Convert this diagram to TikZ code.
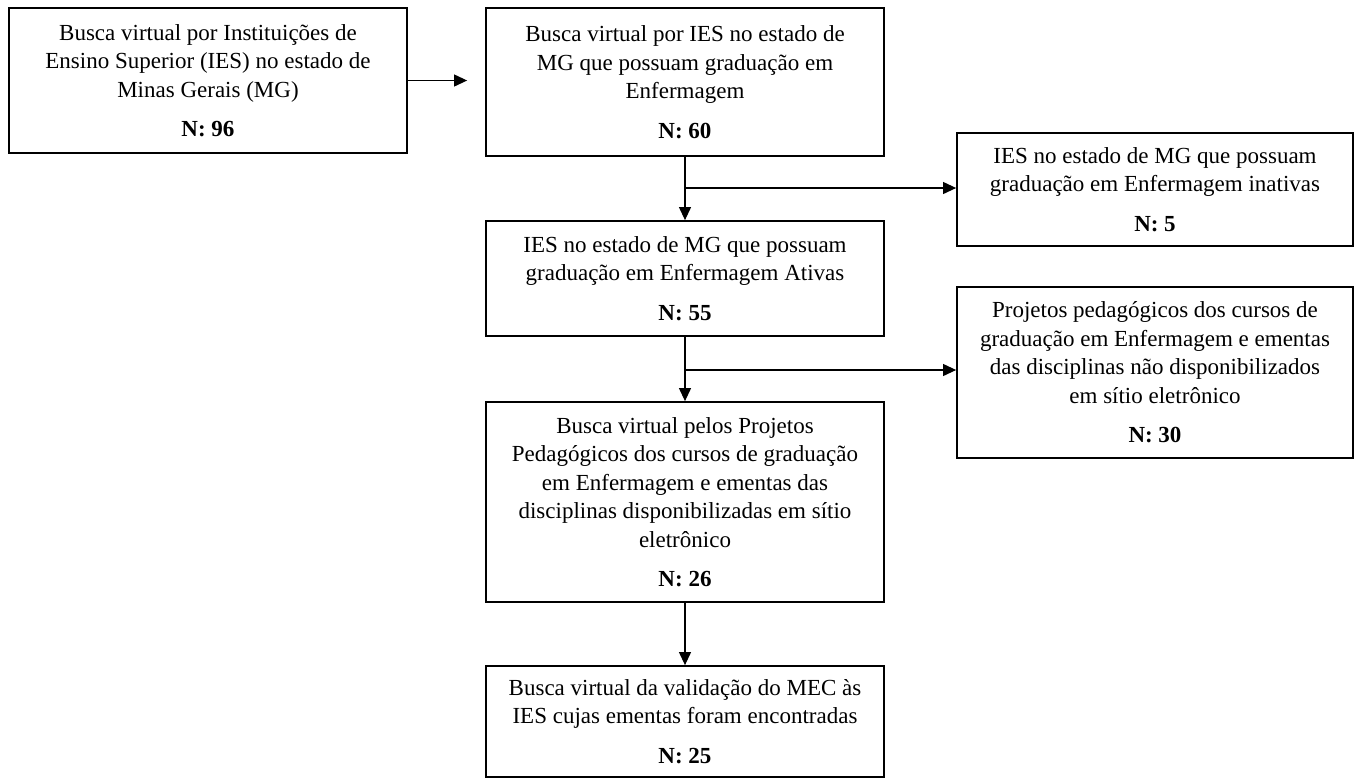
\documentclass[tikz,border=0pt]{standalone}
\usepackage{fontspec}
\setmainfont{Liberation Serif}
\usetikzlibrary{arrows.meta}
\tikzset{
  box/.style={draw, line width=1.8pt, align=center, inner sep=0pt,
    font=\fontsize{23}{28.5}\selectfont},
  arr/.style={line width=1.1pt, -{Triangle[length=13pt,width=12pt]}}
}
\newcommand{\nn}[1]{\\[11pt]\textbf{#1}}
\begin{document}
\begin{tikzpicture}[x=1pt,y=-1pt]
\useasboundingbox (0,0) rectangle (1358,780);
\node[box, minimum width=398pt, minimum height=145pt] (b1) at (208,80.5)
  {Busca virtual por Instituições de\\Ensino Superior (IES) no estado de\\Minas Gerais (MG)\nn{N: 96}};
\node[box, minimum width=398pt, minimum height=148pt] (b2) at (685,82)
  {Busca virtual por IES no estado de\\MG que possuam graduação em\\Enfermagem\nn{N: 60}};
\node[box, minimum width=396pt, minimum height=113pt] (b3) at (1155,189.5)
  {IES no estado de MG que possuam\\graduação em Enfermagem inativas\nn{N: 5}};
\node[box, minimum width=398pt, minimum height=115pt] (b4) at (685,278.5)
  {IES no estado de MG que possuam\\graduação em Enfermagem Ativas\nn{N: 55}};
\node[box, minimum width=396pt, minimum height=171pt] (b5) at (1155,372.5)
  {Projetos pedagógicos dos cursos de\\graduação em Enfermagem e ementas\\das disciplinas não disponibilizados\\em sítio eletrônico\nn{N: 30}};
\node[box, minimum width=398pt, minimum height=200pt] (b6) at (685,502)
  {Busca virtual pelos Projetos\\Pedagógicos dos cursos de graduação\\em Enfermagem e ementas das\\disciplinas disponibilizadas em sítio\\eletrônico\nn{N: 26}};
\node[box, minimum width=398pt, minimum height=111pt] (b7) at (685,721.5)
  {Busca virtual da validação do MEC às\\IES cujas ementas foram encontradas\nn{N: 25}};
\draw[arr, shorten >=18pt] (b1.east) -- (b1.east -| b2.west);
\draw[arr] (b2.south) -- (b4.north);
\draw[arr] (b4.south) -- (b6.north);
\draw[arr] (b6.south) -- (b7.north);
\coordinate (j1) at (685,188);
\coordinate (j2) at (685,370);
\draw[arr] (j1) -- (j1 -| b3.west);
\draw[arr] (j2) -- (j2 -| b5.west);
\end{tikzpicture}
\end{document}
